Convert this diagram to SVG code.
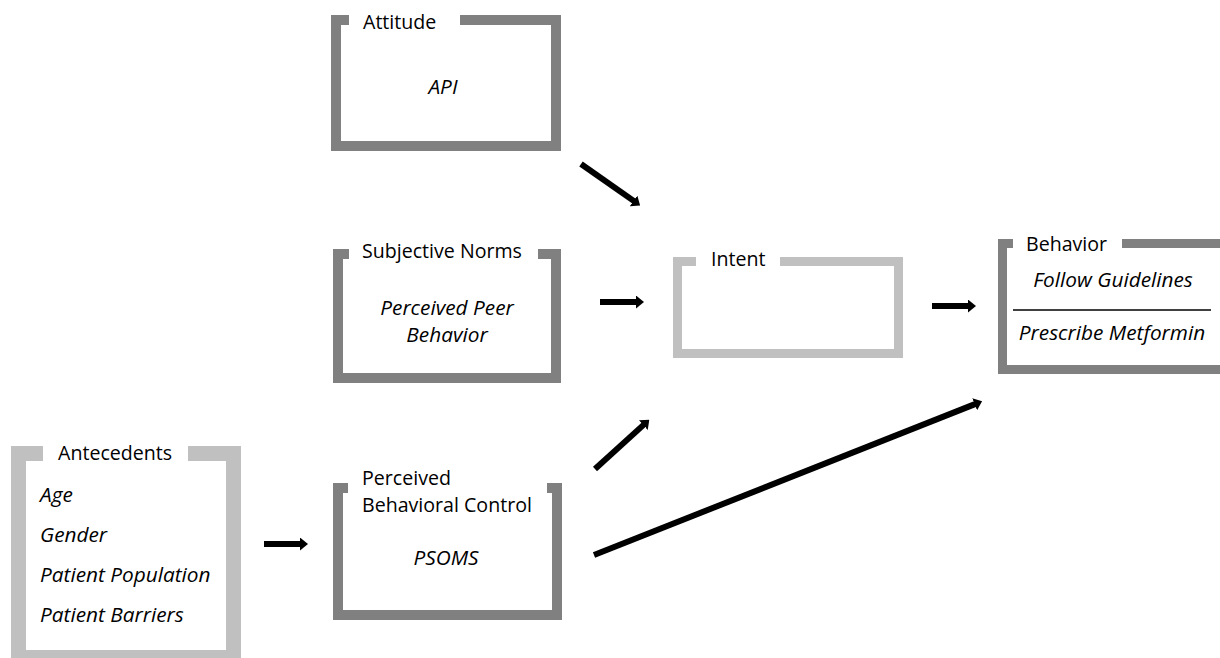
<svg xmlns="http://www.w3.org/2000/svg" width="1220" height="658" viewBox="0 0 1220 658">
<style>
  .dark { fill: none; stroke: #808080; stroke-width: 10; stroke-linejoin: miter; }
  .light { fill: none; stroke: #c0c0c0; stroke-width: 9; stroke-linejoin: miter; }
  .t { font-family: "Open Sans", "Noto Sans", "Liberation Sans", sans-serif; font-size: 19.6px; fill: #000; }
  .i { font-style: italic; font-size: 20.8px; }
  .c { text-anchor: middle; }
  .arr { fill: none; stroke: #000; stroke-width: 6; marker-end: url(#ah); }
</style>
<defs>
  <marker id="ah" markerUnits="userSpaceOnUse" viewBox="0 0 8 13" refX="1" refY="6.5" markerWidth="8" markerHeight="13" orient="auto">
    <path d="M0,0 L8,6.5 L0,13 Z" fill="#000"/>
  </marker>
</defs>
<rect width="1220" height="658" fill="#fff"/>

<g id="attitude">
  <path class="dark" d="M349,20 H336 V146 H556 V20 H460"/>
  <text class="t" x="363" y="29">Attitude</text>
  <text class="t i c" x="443" y="94">API</text>
</g>

<g id="subjective-norms">
  <path class="dark" d="M349,254 H338 V378 H556 V254 H538"/>
  <text class="t" x="362" y="258">Subjective Norms</text>
  <text class="t i c" x="447" y="315">Perceived Peer</text>
  <text class="t i c" x="447" y="342">Behavior</text>
</g>

<g id="intent">
  <path class="light" d="M696,261.5 H677.5 V353.5 H898.5 V261.5 H780"/>
  <text class="t" x="711" y="266">Intent</text>
</g>

<g id="behavior">
  <path class="light" style="stroke:#808080" d="M1013,243.5 H1002.5 V369.5 H1230"/>
  <path class="light" style="stroke:#808080" d="M1122,243.5 H1230"/>
  <text class="t" x="1026" y="251">Behavior</text>
  <text class="t i c" x="1113" y="287">Follow Guidelines</text>
  <line x1="1013" y1="310" x2="1211" y2="310" stroke="#000" stroke-width="1.5"/>
  <text class="t i c" x="1112" y="340">Prescribe Metformin</text>
</g>

<g id="antecedents">
  <path class="light" style="stroke-width:15" d="M43,453.5 H18.5 V657.5 H233.5 V453.5 H188"/>
  <text class="t" x="58" y="460">Antecedents</text>
  <text class="t i" x="40" y="502">Age</text>
  <text class="t i" x="40" y="542">Gender</text>
  <text class="t i" x="40" y="582">Patient Population</text>
  <text class="t i" x="40" y="622">Patient Barriers</text>
</g>

<g id="perceived-behavioral-control">
  <path class="dark" d="M348,488 H338 V615 H557 V488 H547"/>
  <text class="t" x="362" y="485">Perceived</text>
  <text class="t" x="362" y="512">Behavioral Control</text>
  <text class="t i c" x="446" y="565">PSOMS</text>
</g>

<g id="connectors">
  <path class="arr" d="M581,164 L634.4,201.4"/>
  <path class="arr" d="M600,302 L637,302"/>
  <path class="arr" d="M595,469 L644.1,424.4"/>
  <path class="arr" d="M594,555 L975.6,403.9"/>
  <path class="arr" d="M932,306 L969,306"/>
  <path class="arr" d="M264,544 L301,544"/>
</g>
</svg>
